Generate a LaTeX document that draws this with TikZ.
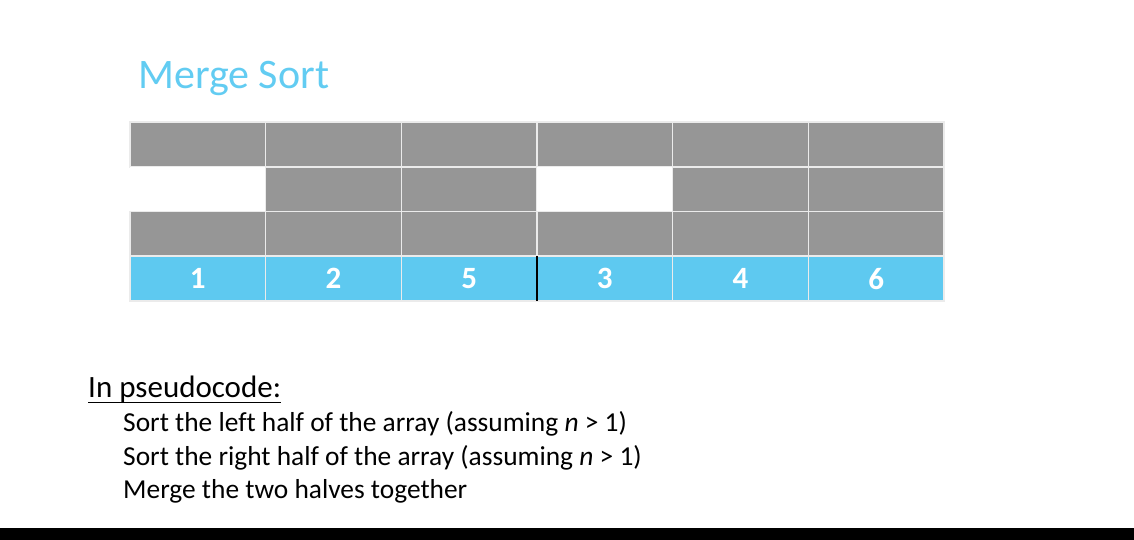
\documentclass[tikz,border=0pt]{standalone}
\usepackage{fontspec}
\setmainfont[Ligatures=NoCommon]{Carlito}
\definecolor{cellgray}{RGB}{150,150,150}
\definecolor{cellblue}{RGB}{94,201,240}
\definecolor{titleblue}{RGB}{98,204,242}
\begin{document}
\begin{tikzpicture}[x=1pt,y=1pt,
  cell/.style={draw=white!92!black,line width=1.6pt,minimum width=135.67pt,minimum height=44.75pt,inner sep=0pt,outer sep=0pt,anchor=north west},
  grayc/.style={cell,fill=cellgray},
  emptyc/.style={cell,draw=none,fill=white},
  bluec/.style={cell,fill=cellblue,text=white,font=\fontsize{31}{36}\selectfont\bfseries},
  line/.style={anchor=base west,font=\fontsize{27.4}{32}\selectfont}]
\useasboundingbox (0,0) rectangle (1134,540);
\fill[white] (0,0) rectangle (1134,540);
\fill[black] (0,0) rectangle (1134,12);
% title
\node[anchor=base west,inner sep=0pt,text=titleblue,font=\fontsize{42}{48}\selectfont] (title) at (138,451) {Merge Sort};
% rows
\foreach \i in {1,...,6}{
  \node[grayc] (a\i) at ({130+135.67*(\i-1)},418) {};
  \node[grayc] (c\i) at ({130+135.67*(\i-1)},328.5) {};
}
\node[emptyc] (b1) at (130,373.25) {};
\node[grayc] (b2) at ({130+135.67*1},373.25) {};
\node[grayc] (b3) at ({130+135.67*2},373.25) {};
\node[emptyc] (b4) at ({130+135.67*3},373.25) {};
\node[grayc] (b5) at ({130+135.67*4},373.25) {};
\node[grayc] (b6) at ({130+135.67*5},373.25) {};
\foreach \i/\v in {1/1,2/2,3/5,4/3,5/4,6/6}{
  \node[bluec] (d\i) at ({130+135.67*(\i-1)},283.75) {\v};
}
\draw[black,line width=2pt] (d4.north west) -- (d4.south west);
% pseudocode
\node[anchor=base west,inner sep=0pt,font=\fontsize{31}{36}\selectfont] (head) at (88,142) {In pseudocode:};
\draw[line width=1.5pt] ([yshift=-4.5pt]head.base west) -- ([yshift=-4.5pt]head.base east);
\node[line,inner sep=0pt] (l1) at (123,108) {Sort the left half of the array (assuming \textit{n} > 1)};
\node[line,inner sep=0pt] (l2) at (123,74.5) {Sort the right half of the array (assuming \textit{n} > 1)};
\node[line,inner sep=0pt] (l3) at (123,41) {Merge the two halves together};
\end{tikzpicture}
\end{document}
